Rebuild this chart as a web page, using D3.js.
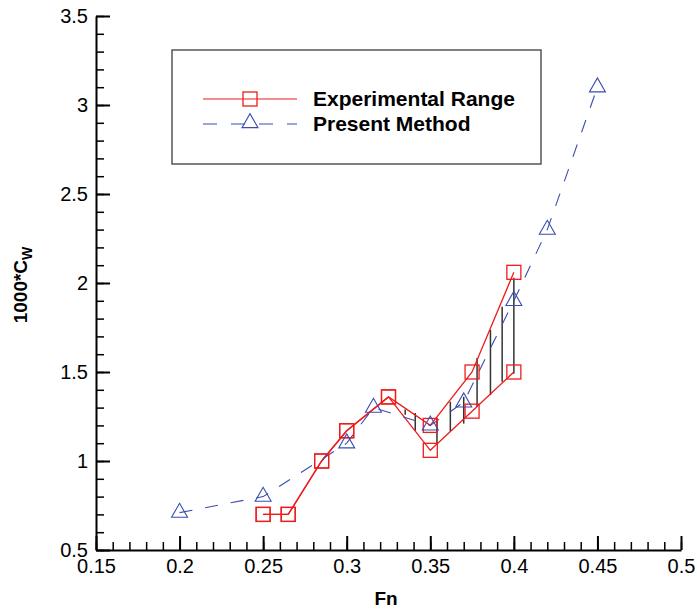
<!DOCTYPE html>
<html>
<head>
<meta charset="utf-8">
<script src="https://cdn.jsdelivr.net/npm/d3@7"></script>
<style>
  html, body { margin: 0; padding: 0; background: #fff; }
  svg { display: block; }
  text { font-family: "Liberation Sans", Arial, Helvetica, sans-serif; }
</style>
</head>
<body>
<svg id="chart" width="697" height="610"></svg>
<script>
// ---- data ----
const expFn      = [0.25, 0.265, 0.285, 0.30, 0.325, 0.35, 0.375, 0.40];
const expUpper   = [0.70, 0.70, 1.00, 1.17, 1.36, 1.20, 1.50, 2.06];
const expLower   = [0.70, 0.70, 1.00, 1.17, 1.36, 1.06, 1.28, 1.50];

const presentFn  = [0.20, 0.25, 0.30, 0.316, 0.35, 0.37, 0.40, 0.42, 0.45];
const presentCw  = [0.71, 0.80, 1.10, 1.30, 1.20, 1.33, 1.90, 2.30, 3.10];

const hatchFn    = [0.335, 0.341, 0.354, 0.362, 0.370, 0.378, 0.386, 0.393, 0.400];
const hatchLow   = [1.26, 1.17, 1.09, 1.165, 1.21, 1.305, 1.37, 1.445, 1.49];
const hatchHigh  = [1.29, 1.27, 1.236, 1.333, 1.36, 1.579, 1.736, 1.867, 2.03];

const xTicks = [0.15, 0.2, 0.25, 0.3, 0.35, 0.4, 0.45, 0.5];
const xTickLabels = ["0.15", "0.2", "0.25", "0.3", "0.35", "0.4", "0.45", "0.5"];
const yTicks = [0.5, 1, 1.5, 2, 2.5, 3, 3.5];
const yTickLabels = ["0.5", "1", "1.5", "2", "2.5", "3", "3.5"];
const legendLabels = ["Experimental Range", "Present Method"];

// ---- setup ----
const RED = "#ee1c1c", BLUE = "#3a4db0";
const svg = d3.select("#chart");
const x = d3.scaleLinear().domain([0.15, 0.5]).range([96, 681]);
const y = d3.scaleLinear().domain([0.5, 3.5]).range([550, 16]);

const xMinor = d3.range(15, 51).map(d => d / 100);
const yMinor = d3.range(5, 36).map(d => d / 10);

// minor ticks
svg.append("g").attr("transform", "translate(0,550)")
  .call(d3.axisBottom(x).tickValues(xMinor).tickSize(-8).tickSizeOuter(0).tickFormat(""))
  .call(g => g.select(".domain").remove())
  .call(g => g.selectAll("line").attr("stroke", "#000").attr("stroke-width", 1.5));
svg.append("g").attr("transform", "translate(96,0)")
  .call(d3.axisLeft(y).tickValues(yMinor).tickSize(-8).tickSizeOuter(0).tickFormat(""))
  .call(g => g.select(".domain").remove())
  .call(g => g.selectAll("line").attr("stroke", "#000").attr("stroke-width", 1.5));

// major axes
svg.append("g").attr("transform", "translate(0,550)")
  .call(d3.axisBottom(x).tickValues(xTicks).tickSize(-14).tickSizeOuter(0).tickPadding(9)
    .tickFormat((d, i) => xTickLabels[i]))
  .call(g => g.select(".domain").attr("stroke", "#000").attr("stroke-width", 2))
  .call(g => g.selectAll("line").attr("stroke", "#000").attr("stroke-width", 2))
  .call(g => g.selectAll("text").attr("font-size", 20).attr("fill", "#000").attr("font-family", null));
svg.append("g").attr("transform", "translate(96,0)")
  .call(d3.axisLeft(y).tickValues(yTicks).tickSize(-14).tickSizeOuter(0).tickPadding(8)
    .tickFormat((d, i) => yTickLabels[i]))
  .call(g => g.select(".domain").attr("stroke", "#000").attr("stroke-width", 2))
  .call(g => g.selectAll("line").attr("stroke", "#000").attr("stroke-width", 2))
  .call(g => g.selectAll("text").attr("font-size", 20).attr("fill", "#000").attr("font-family", null));

// axis titles
svg.append("text").attr("x", 386).attr("y", 605).attr("text-anchor", "middle")
  .attr("font-size", 19).attr("font-weight", "bold").text("Fn");
const yt = svg.append("text").attr("transform", "translate(27,285) rotate(-90)")
  .attr("text-anchor", "middle").attr("font-size", 19).attr("font-weight", "bold");
yt.append("tspan").text("1000*C");
yt.append("tspan").attr("font-size", 14).attr("dy", 5).text("W");

// hatch lines
svg.append("g").selectAll("line").data(hatchFn).join("line")
  .attr("x1", d => x(d)).attr("x2", d => x(d))
  .attr("y1", (d, i) => y(hatchLow[i])).attr("y2", (d, i) => y(hatchHigh[i]))
  .attr("stroke", "#333").attr("stroke-width", 1.5);

// experimental lines
const line = d3.line().x(d => x(d[0])).y(d => y(d[1]));
[expUpper, expLower].forEach(s => {
  svg.append("path").datum(expFn.map((f, i) => [f, s[i]]))
    .attr("d", line).attr("fill", "none").attr("stroke", RED).attr("stroke-width", 1.3);
});

// present method line
svg.append("path").datum(presentFn.map((f, i) => [f, presentCw[i]]))
  .attr("d", line).attr("fill", "none").attr("stroke", BLUE).attr("stroke-width", 1.1)
  .attr("stroke-dasharray", "13,13");

// markers
const sq = 14;
[expUpper, expLower].forEach(s => {
  svg.append("g").selectAll("rect").data(expFn.map((f, i) => [f, s[i]])).join("rect")
    .attr("x", d => x(d[0]) - sq / 2).attr("y", d => y(d[1]) - sq / 2)
    .attr("width", sq).attr("height", sq)
    .attr("fill", "none").attr("stroke", RED).attr("stroke-width", 1.3);
});
function triPath(cx, cy) {
  const w = 16, h = 14;
  return `M${cx - w / 2},${cy + h / 3}L${cx + w / 2},${cy + h / 3}L${cx},${cy - 2 * h / 3}Z`;
}
svg.append("g").selectAll("path").data(presentFn.map((f, i) => [f, presentCw[i]])).join("path")
  .attr("d", d => triPath(x(d[0]), y(d[1])))
  .attr("fill", "none").attr("stroke", BLUE).attr("stroke-width", 1.1);

// legend
svg.append("rect").attr("x", 172).attr("y", 50).attr("width", 369).attr("height", 114)
  .attr("fill", "#fff").attr("stroke", "#555").attr("stroke-width", 1.5);
svg.append("line").attr("x1", 203).attr("x2", 297).attr("y1", 99).attr("y2", 99)
  .attr("stroke", RED).attr("stroke-width", 1.2);
svg.append("rect").attr("x", 250 - 7).attr("y", 99 - 7).attr("width", 14).attr("height", 14)
  .attr("fill", "none").attr("stroke", RED).attr("stroke-width", 1.3);
svg.append("line").attr("x1", 203).attr("x2", 297).attr("y1", 124).attr("y2", 124)
  .attr("stroke", BLUE).attr("stroke-width", 1.1).attr("stroke-dasharray", "14,14");
svg.append("path").attr("d", triPath(250, 124 - 1)).attr("fill", "none").attr("stroke", BLUE).attr("stroke-width", 1.1);
svg.append("g").selectAll("text").data(legendLabels).join("text")
  .attr("x", 313).attr("y", (d, i) => 106 + i * 25)
  .attr("font-size", 21).attr("font-weight", "bold").text(d => d);
</script>
</body>
</html>
